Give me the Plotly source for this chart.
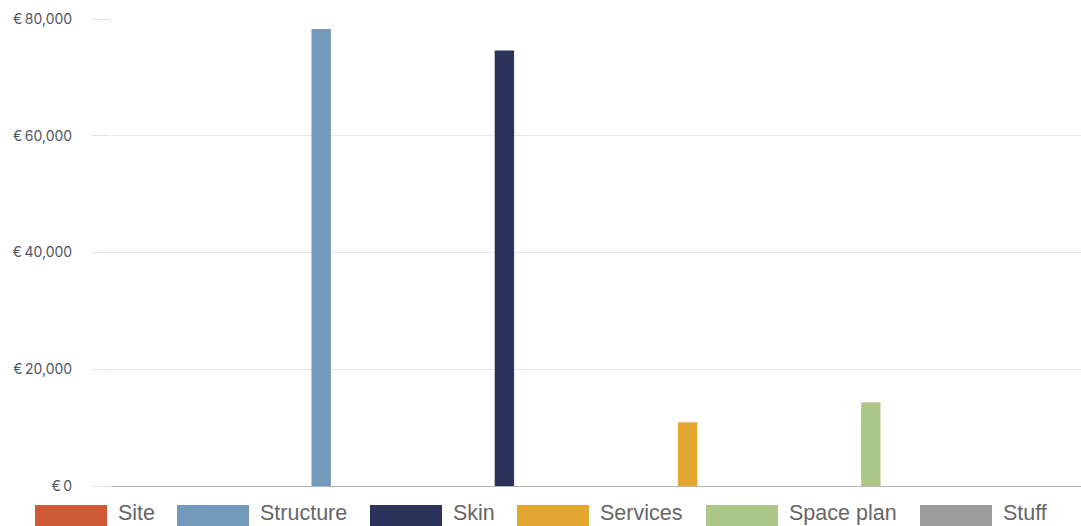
import plotly.graph_objects as go

categories = ["Site", "Structure", "Skin", "Services", "Space plan", "Stuff"]
values = [0, 78300, 74600, 10900, 14350, 0]
colors = ["#cd5b35", "#7399bb", "#2c335a", "#e3a631", "#adc789", "#9b9b9b"]
y_ticks = [0, 20000, 40000, 60000, 80000]
y_tick_text = ["€\u2009" + f"{v:,}" for v in y_ticks]

W, H = 1081, 526
ML, MR, MT, MB = 111, 0, 19, 40
PW, PH = W - ML - MR, H - MT - MB

fig = go.Figure()
for i, (cat, val, col) in enumerate(zip(categories, values, colors)):
    ys = [val if j == i else None for j in range(len(categories))]
    fig.add_trace(go.Bar(x=categories, y=ys, name=cat, marker=dict(color=col, line=dict(width=0)),
                         showlegend=False))

# custom legend (wide swatches like the original)
legend_x = [35, 177, 370, 517, 706, 920]
def px2x(px):
    return (px - ML) / PW
def py2y(py):
    return (H - MB - py) / PH

shapes = []
annotations = []
for cat, col, lx in zip(categories, colors, legend_x):
    shapes.append(dict(type="rect", xref="paper", yref="paper",
                       x0=px2x(lx), x1=px2x(lx + 72), y0=py2y(528), y1=py2y(505),
                       fillcolor=col, line=dict(width=0), layer="above"))
    annotations.append(dict(xref="paper", yref="paper", x=px2x(lx + 82), y=py2y(512.5),
                            text=cat, showarrow=False, xanchor="left", yanchor="middle",
                            borderpad=0,
                            font=dict(family="Liberation Sans, Arial", size=21.5, color="#666666")))

fig.update_layout(
    width=W, height=H,
    margin=dict(l=ML, r=MR, t=MT, b=MB, pad=0),
    paper_bgcolor="white", plot_bgcolor="white",
    barmode="group", bargap=0.2, bargroupgap=0.1,
    shapes=shapes, annotations=annotations,
    xaxis=dict(showticklabels=False, showgrid=False, zeroline=False, showline=False,
               ticks="", range=[-0.5, 5.5]),
    yaxis=dict(range=[0, 80000], tickvals=y_ticks, ticktext=y_tick_text,
               showgrid=True, gridcolor="#e6e6e6", gridwidth=1,
               zeroline=True, zerolinecolor="#b5b5b5", zerolinewidth=1,
               ticks="outside", ticklen=18, tickcolor="#e2e2e2", tickwidth=1,
               ticklabelstandoff=17,
               tickfont=dict(family="Inter, Open Sans, sans-serif", size=14, color="#4f5565"),
               showline=False, fixedrange=True),
    showlegend=False,
)

fig.write_html("out.html", config={"displayModeBar": False},
               post_script="document.body.style.margin='0px';")
